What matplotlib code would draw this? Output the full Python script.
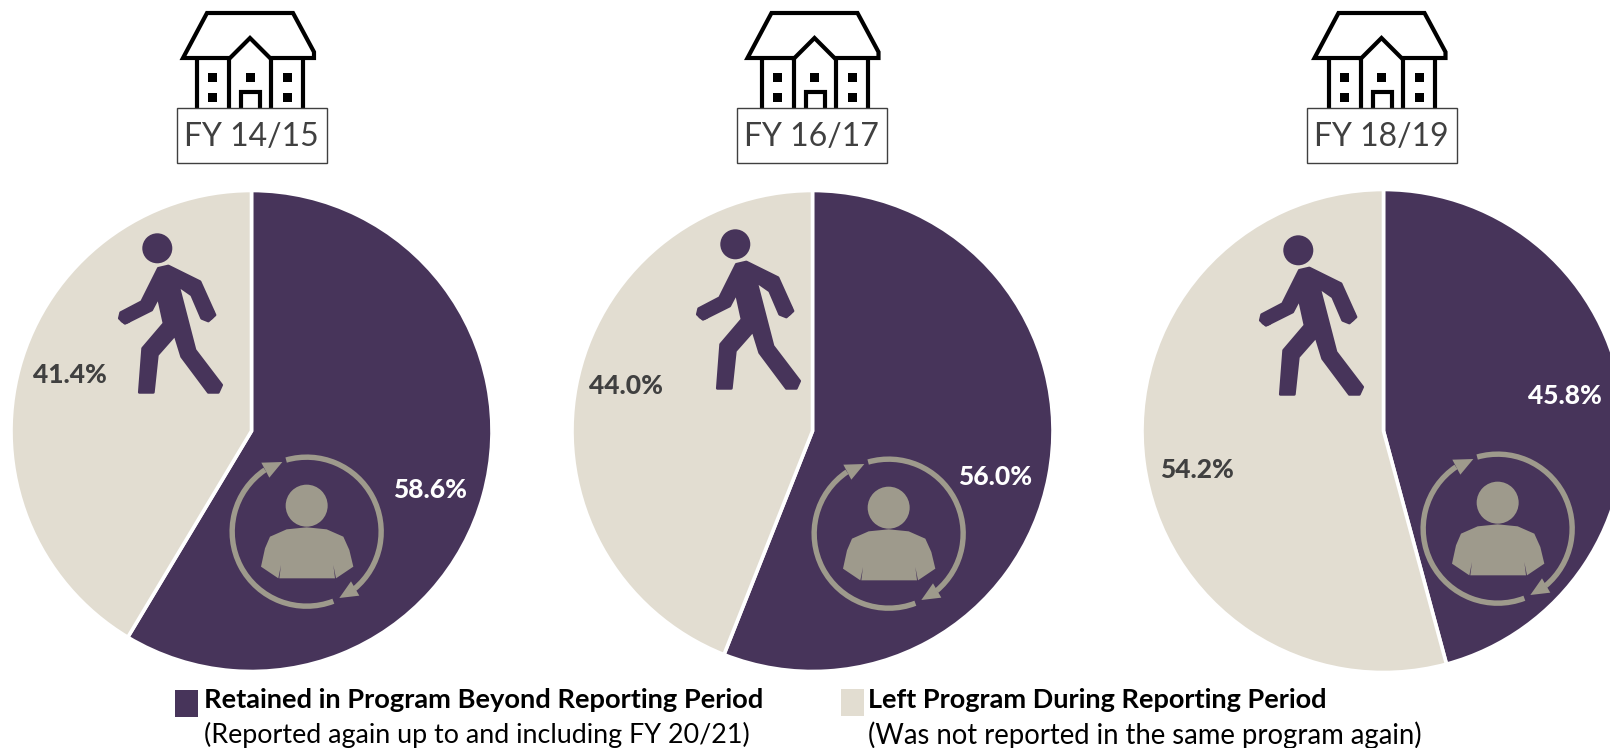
import numpy as np
import matplotlib
matplotlib.use("Agg")
import matplotlib.pyplot as plt
from matplotlib.patches import Polygon, Circle, Rectangle, Arc

plt.rcParams['font.family'] = ['Lato', 'DejaVu Sans']

# ---- data ----
periods = ["FY 14/15", "FY 16/17", "FY 18/19"]
retained = [58.6, 56.0, 45.8]
left = [41.4, 44.0, 54.2]
legend_titles = ["Retained in Program Beyond Reporting Period", "Left Program During Reporting Period"]
legend_subs = ["(Reported again up to and including FY 20/21)", "(Was not reported in the same program again)"]

PURPLE = "#47345a"
BEIGE = "#e2ddd1"
GREY = "#9e9a8c"
DARK = "#404040"

W, H = 1610, 748
fig = plt.figure(figsize=(W / 100, H / 100), dpi=100, facecolor="white")
ax = fig.add_axes([0, 0, 1, 1])

# ---- layout (pixels) ----
pie_cx = [251.5, 812.5, 1383.5]
pie_cy = [431, 431, 431]
pie_r = [240.5, 240.5, 241.5]
ret_lbl = [(430, 490), (995, 477), (1565, 396)]
left_lbl = [(70, 375), (626, 386), (1197, 470)]
box_cx = [252, 812, 1382]
house_dx = [0, 564.5, 1131.5]
walk_off = [(0, 0), (578, -4), (1141, 2)]
cyc_off = [(0, 0), (582, 2), (1191, -3)]


def house(dx):
    ax.plot([dx + x for x in (230, 183, 207, 293, 314, 314, 270)],
            [58, 58, 13, 13, 52, 58, 58], color="black", lw=3.0, zorder=3,
            solid_joinstyle="miter", solid_capstyle="butt")
    ax.plot([dx + 229, dx + 250, dx + 271], [59, 38, 59], color="black", lw=3.0, zorder=3,
            solid_joinstyle="miter")
    for x in (197, 229, 271, 303):
        ax.plot([dx + x, dx + x], [58, 108], color="black", lw=3.0, zorder=3, solid_capstyle="butt")
    for x in (212.5, 250, 287.5):
        for y in (77.5, 97):
            if x == 250 and y == 97:
                continue
            ax.add_patch(Rectangle((dx + x - 4.5, y - 4.5), 9, 9, fc="black", ec="none", zorder=3))
    ax.plot([dx + 241, dx + 241, dx + 260, dx + 260], [108, 92, 92, 108], color="black", lw=3.0, zorder=3,
            solid_joinstyle="miter")


walker_z = [(175, 145), (205, 138), (300, 185), (345, 285), (325, 303), (305, 295), (275, 225),
            (235, 197), (285, 390), (365, 495), (355, 517), (325, 517), (245, 410), (225, 345),
            (172, 405), (160, 517), (118, 517), (128, 385), (192, 310), (175, 232), (155, 270),
            (75, 310), (58, 295), (62, 278), (125, 245)]


def walker(ox, oy):
    f = lambda x, y: (100 + x / 3 + ox, 220 + y / 3 + oy)
    ax.add_patch(Circle((157.3 + ox, 248.3 + oy), 15, fc=PURPLE, ec="none", zorder=3))
    ax.add_patch(Polygon([f(x, y) for x, y in walker_z], closed=True, fc=PURPLE, ec=PURPLE, lw=2.0,
                         joinstyle="round", zorder=3))
    ax.add_patch(Circle(f(77, 292), 6.5, fc=PURPLE, ec="none", zorder=3))
    ax.add_patch(Circle(f(323, 281), 7.2, fc=PURPLE, ec="none", zorder=3))


body_z = [(123, 380), (135, 325), (150, 290), (200, 268), (260, 262), (320, 268), (370, 290), (388, 330),
          (400, 380), (348, 415), (340, 375), (345, 415), (178, 415), (183, 375), (175, 415)]


def cycle(ox, oy):
    f = lambda x, y: (220 + x / 3 + ox, 440 + y / 3 + oy)
    c = f(260, 275)
    ax.add_patch(Arc(c, 149, 149, theta1=-106, theta2=50, ec=GREY, lw=3.9, zorder=3))
    ax.add_patch(Arc(c, 149, 149, theta1=69, theta2=236, ec=GREY, lw=3.9, zorder=3))
    ax.add_patch(Polygon([f(*p) for p in [(187, 66), (124, 68), (148, 113)]], closed=True,
                         fc=GREY, ec="none", zorder=3))
    ax.add_patch(Polygon([f(*p) for p in [(358, 474), (418, 467), (393, 424)]], closed=True,
                         fc=GREY, ec="none", zorder=3))
    ax.add_patch(Circle(f(260, 197), 21, fc=GREY, ec="none", zorder=3))
    ax.add_patch(Polygon([f(*p) for p in body_z], closed=True, fc=GREY, ec="none", zorder=3))


for i, name in enumerate(periods):
    ax.pie([retained[i], left[i]], colors=[PURPLE, BEIGE], startangle=-90, counterclock=True,
           center=(pie_cx[i], pie_cy[i]), radius=pie_r[i],
           wedgeprops=dict(edgecolor="white", linewidth=2.6), normalize=True)
    ax.text(*ret_lbl[i], f"{retained[i]:.1f}%", color="white", fontsize=19, fontweight=900,
            ha="center", va="center", zorder=5, clip_on=False)
    ax.text(*left_lbl[i], f"{left[i]:.1f}%", color=DARK, fontsize=19, fontweight=900,
            ha="center", va="center", zorder=5)
    house(house_dx[i])
    walker(*walk_off[i])
    cycle(*cyc_off[i])
    bx = box_cx[i]
    ax.add_patch(Rectangle((bx - 75, 108), 150, 55, fc="white", ec=DARK, lw=1.0, zorder=4))
    ax.text(bx - 1, 136.5, name, color=DARK, fontsize=23, ha="center", va="center", zorder=5)

ax.set_xlim(0, W)
ax.set_ylim(H, 0)
ax.set_aspect("equal")
ax.axis("off")

# ---- legend ----
sq = [(175, 690, PURPLE), (841, 689, BEIGE)]
tx = [204, 868]
title_fs = [19.6, 19.5]
sub_fs = [19.4, 19.8]
for i in range(2):
    ax.add_patch(Rectangle((sq[i][0], sq[i][1]), 23, 27, fc=sq[i][2], ec="none", zorder=3))
    ax.text(tx[i], 700, legend_titles[i], color="black", fontsize=title_fs[i], fontweight="bold",
            ha="left", va="center", zorder=5)
    ax.text(tx[i], 735, legend_subs[i], color="black", fontsize=sub_fs[i], ha="left", va="center", zorder=5)

fig.savefig("out.png", dpi=100, facecolor="white")
